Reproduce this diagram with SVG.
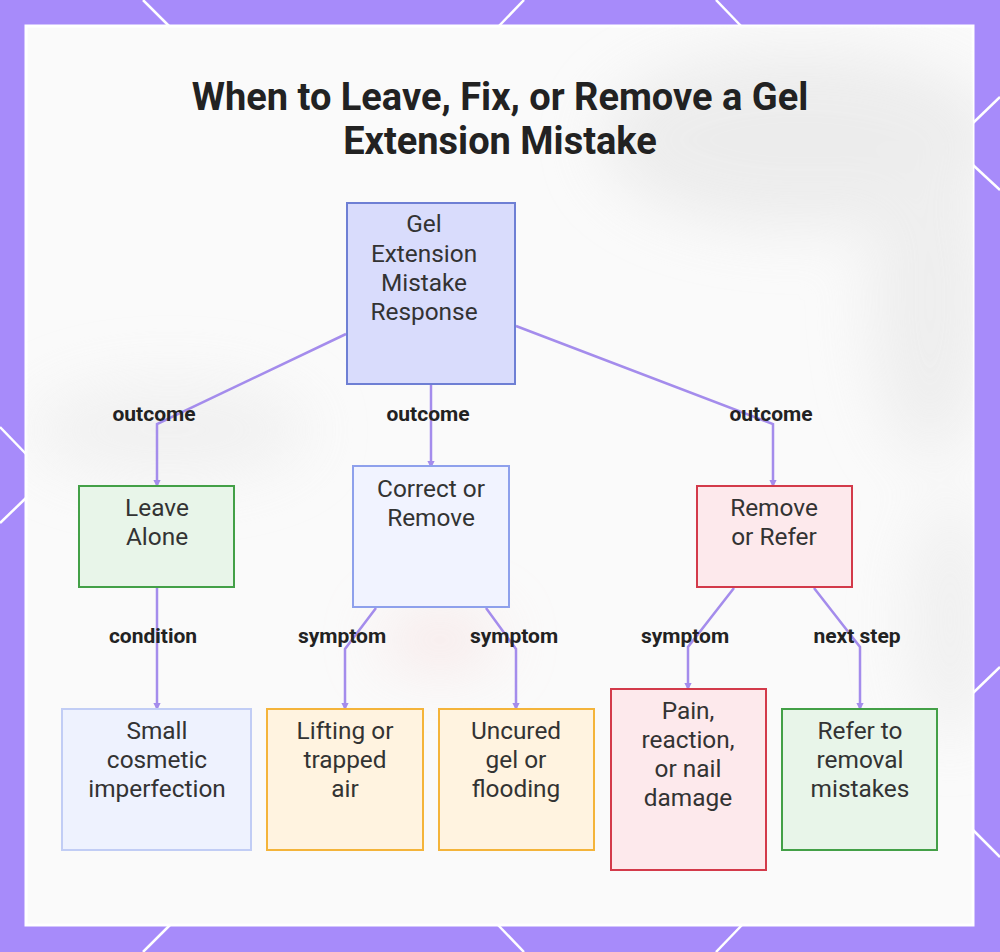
<svg xmlns="http://www.w3.org/2000/svg" width="1000" height="952" viewBox="0 0 1000 952">
  <defs>
    <style>
      .bgline { stroke: #ffffff; stroke-width: 2.5; fill: none; }
      .title { font-family: Roboto, "Liberation Sans", sans-serif; font-weight: 700; font-size: 38px; fill: #222222; text-anchor: middle; }
      .ntext { font-family: Roboto, "Liberation Sans", sans-serif; font-size: 24.4px; fill: #333333; text-anchor: middle; }
      .elabel { font-family: Roboto, "Liberation Sans", sans-serif; font-weight: 700; font-size: 21px; fill: #222222; text-anchor: middle; }
      .edge { stroke: #a48cec; stroke-width: 2.5; fill: none; marker-end: url(#arrow); }
      .n-root { fill: #d9dcfc; stroke: #6e7fd4; stroke-width: 2; }
      .n-blue { fill: #f1f3ff; stroke: #8ea0ec; stroke-width: 2; }
      .n-pale { fill: #eef2fe; stroke: #c1cdf5; stroke-width: 2; }
      .n-green { fill: #e8f5e9; stroke: #43a047; stroke-width: 2; }
      .n-red { fill: #fde9ec; stroke: #d33a4a; stroke-width: 2; }
      .n-orange { fill: #fff3e0; stroke: #f4b43a; stroke-width: 2; }
    </style>
    <marker id="arrow" viewBox="0 0 6 6" refX="5" refY="3" markerWidth="3" markerHeight="3" orient="auto" markerUnits="strokeWidth">
      <path d="M0,0 L6,3 L0,6 z" fill="#a48cec"/>
    </marker>
    <filter id="blur" x="-50%" y="-50%" width="200%" height="200%">
      <feGaussianBlur stdDeviation="30"/>
    </filter>
    <clipPath id="panelClip">
      <rect x="26" y="26" width="947" height="899"/>
    </clipPath>
  </defs>

  <!-- purple border background -->
  <rect x="0" y="0" width="1000" height="952" fill="#a78bfa"/>
  <g class="bgline">
    <line x1="143" y1="0" x2="170" y2="27"/>
    <line x1="524" y1="0" x2="498" y2="27"/>
    <line x1="716" y1="0" x2="742" y2="27"/>
    <line x1="170" y1="925" x2="143" y2="952"/>
    <line x1="498" y1="925" x2="524" y2="952"/>
    <line x1="742" y1="925" x2="716" y2="952"/>
    <line x1="0" y1="427" x2="27" y2="455"/>
    <line x1="27" y1="497" x2="0" y2="523"/>
    <line x1="973" y1="123" x2="1000" y2="97"/>
    <line x1="973" y1="165" x2="1000" y2="190"/>
    <line x1="973" y1="693" x2="1000" y2="667"/>
    <line x1="973" y1="830" x2="1000" y2="857"/>
  </g>

  <!-- panel -->
  <rect x="26" y="26" width="947" height="899" fill="#fafafa" stroke="#ffffff" stroke-width="3"/>
  <g clip-path="url(#panelClip)" filter="url(#blur)" opacity="0.75">
    <ellipse cx="800" cy="140" rx="200" ry="90" fill="#e8e8e8"/>
    <ellipse cx="930" cy="300" rx="60" ry="160" fill="#eaeaea"/>
    <ellipse cx="170" cy="430" rx="140" ry="50" fill="#eeeeee"/>
    <ellipse cx="440" cy="640" rx="60" ry="30" fill="#f6e4e4"/>
    <ellipse cx="950" cy="620" rx="40" ry="120" fill="#ececec"/>
  </g>

  <!-- title -->
  <text class="title" x="500" y="110">When to Leave, Fix, or Remove a Gel</text>
  <text class="title" x="500" y="154">Extension Mistake</text>

  <!-- connectors -->
  <g id="connectors">
    <polyline class="edge" points="346,334 157,424 157,486"/>
    <polyline class="edge" points="431,385 431,467"/>
    <polyline class="edge" points="516,326 773,424 773,486"/>
    <polyline class="edge" points="157,588 157,709"/>
    <polyline class="edge" points="376,608 345,649 345,709"/>
    <polyline class="edge" points="486,608 516,649 516,709"/>
    <polyline class="edge" points="734,588 688,647 688,689"/>
    <polyline class="edge" points="814,588 860,647 860,709"/>
  </g>

  <!-- edge labels -->
  <g id="edge-labels">
    <text class="elabel" x="154" y="421">outcome</text>
    <text class="elabel" x="428" y="421">outcome</text>
    <text class="elabel" x="771" y="421">outcome</text>
    <text class="elabel" x="153" y="643">condition</text>
    <text class="elabel" x="342" y="643">symptom</text>
    <text class="elabel" x="514" y="643">symptom</text>
    <text class="elabel" x="685" y="643">symptom</text>
    <text class="elabel" x="857" y="643">next step</text>
  </g>

  <!-- nodes -->
  <g id="node-root">
    <rect class="n-root" x="347" y="203" width="168" height="181"/>
    <text class="ntext" x="424" y="232">Gel</text>
    <text class="ntext" x="424" y="262">Extension</text>
    <text class="ntext" x="424" y="291">Mistake</text>
    <text class="ntext" x="424" y="320">Response</text>
  </g>
  <g id="node-leave">
    <rect class="n-green" x="79" y="486" width="155" height="101"/>
    <text class="ntext" x="157" y="516">Leave</text>
    <text class="ntext" x="157" y="545">Alone</text>
  </g>
  <g id="node-correct">
    <rect class="n-blue" x="353" y="466" width="156" height="141"/>
    <text class="ntext" x="431" y="497">Correct or</text>
    <text class="ntext" x="431" y="526">Remove</text>
  </g>
  <g id="node-remove">
    <rect class="n-red" x="697" y="486" width="155" height="101"/>
    <text class="ntext" x="774" y="516">Remove</text>
    <text class="ntext" x="774" y="545">or Refer</text>
  </g>
  <g id="node-small">
    <rect class="n-pale" x="62" y="709" width="189" height="141"/>
    <text class="ntext" x="157" y="739">Small</text>
    <text class="ntext" x="157" y="768">cosmetic</text>
    <text class="ntext" x="157" y="797">imperfection</text>
  </g>
  <g id="node-lifting">
    <rect class="n-orange" x="267" y="709" width="156" height="141"/>
    <text class="ntext" x="345" y="739">Lifting or</text>
    <text class="ntext" x="345" y="768">trapped</text>
    <text class="ntext" x="345" y="797">air</text>
  </g>
  <g id="node-uncured">
    <rect class="n-orange" x="439" y="709" width="155" height="141"/>
    <text class="ntext" x="516" y="739">Uncured</text>
    <text class="ntext" x="516" y="768">gel or</text>
    <text class="ntext" x="516" y="797">flooding</text>
  </g>
  <g id="node-pain">
    <rect class="n-red" x="611" y="689" width="155" height="181"/>
    <text class="ntext" x="688" y="719">Pain,</text>
    <text class="ntext" x="688" y="748">reaction,</text>
    <text class="ntext" x="688" y="777">or nail</text>
    <text class="ntext" x="688" y="806">damage</text>
  </g>
  <g id="node-refer">
    <rect class="n-green" x="782" y="709" width="155" height="141"/>
    <text class="ntext" x="860" y="739">Refer to</text>
    <text class="ntext" x="860" y="768">removal</text>
    <text class="ntext" x="860" y="797">mistakes</text>
  </g>
</svg>
